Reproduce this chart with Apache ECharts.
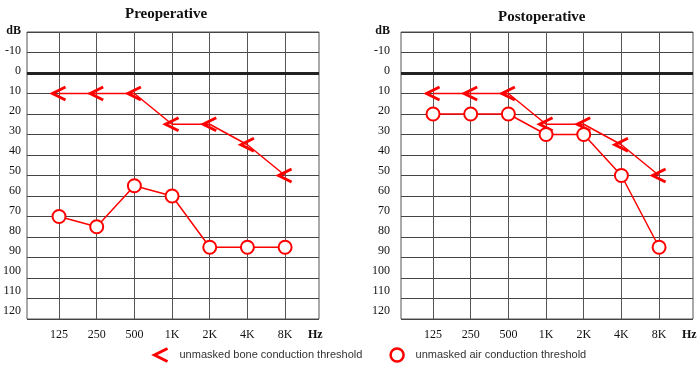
<!DOCTYPE html>
<html><head><meta charset="utf-8">
<script src="https://cdn.jsdelivr.net/npm/echarts@6/dist/echarts.min.js"></script>
<style>html,body{margin:0;padding:0;background:#fff}#c{width:700px;height:370px}</style>
</head><body><div id="c"></div>
<script>
const frequencies = ['125', '250', '500', '1K', '2K', '4K', '8K'];
const unitLabel = 'Hz';
const dbLabel = 'dB';
const preBone = [10, 10, 10, 25, 25, 35, 50];
const preAir = [70, 75, 55, 60, 85, 85, 85];
const postBone = [10, 10, 10, 25, 25, 35, 50];
const postAir = [20, 20, 20, 30, 30, 50, 85];
const panelTitles = ['Preoperative', 'Postoperative'];
const boneName = 'unmasked bone conduction threshold';
const airName = 'unmasked air conduction threshold';

const RED = '#f00';
const CHEVRON = 'path://M13,0 L0,6.5 L13,13';
const serif = 'Liberation Serif';
const tickIdx = frequencies.map((f, i) => i);
const hzPos = 6.8;

function pairs(vals) { return vals.map((v, i) => [i, v]); }

const gridLefts = [27, 401];
const titleLefts = [125, 498];
const titleTops = [7, 10];

const grids = [], xAxes = [], yAxes = [], titles = [], series = [];
const panels = [[preBone, preAir], [postBone, postAir]];
panels.forEach((p, i) => {
  grids.push({left: gridLefts[i], top: 32, width: 292, height: 287, show: true,
    borderColor: '#555', borderWidth: 1, backgroundColor: 'transparent'});
  titles.push({text: panelTitles[i], left: titleLefts[i], top: titleTops[i], padding: 0,
    textStyle: {fontFamily: serif, fontWeight: 'bold', fontSize: 15, color: '#111'}});
  xAxes.push({type: 'value', gridIndex: i, min: -0.85, max: 6.9,
    axisLine: {show: false},
    axisTick: {show: false, customValues: tickIdx},
    splitLine: {show: true, lineStyle: {color: '#555', width: 1}},
    axisLabel: {customValues: tickIdx.concat([hzPos]), margin: 10,
      fontFamily: serif, fontSize: 12, color: '#111',
      formatter: v => (v === hzPos ? '{h|' + unitLabel + '}' : frequencies[Math.round(v)]),
      rich: {h: {fontFamily: serif, fontWeight: 'bold', fontSize: 12, color: '#111'}}}
  });
  yAxes.push({type: 'value', gridIndex: i, inverse: true, min: -20, max: 120, interval: 10,
    axisLine: {show: false}, axisTick: {show: false},
    splitLine: {show: true, lineStyle: {color: '#444', width: 1}},
    axisLabel: {show: false}
  });
  series.push({name: boneName, type: 'line', xAxisIndex: i, yAxisIndex: i, data: pairs(p[0]),
    symbol: CHEVRON, symbolSize: [13, 13], z: 3,
    itemStyle: {color: 'rgba(0,0,0,0)', borderColor: RED, borderWidth: 3},
    lineStyle: {color: RED, width: 1.5}, emphasis: {disabled: true},
    markLine: {silent: true, symbol: 'none', label: {show: false},
      lineStyle: {color: '#222', width: 3, type: 'solid'}, data: [{yAxis: 0}]}
  });
  series.push({name: airName, type: 'line', xAxisIndex: i, yAxisIndex: i, data: pairs(p[1]),
    symbol: 'emptyCircle', symbolSize: 13, z: 4,
    itemStyle: {color: RED, borderColor: RED, borderWidth: 2.2},
    lineStyle: {color: RED, width: 1.5}, emphasis: {disabled: true}
  });
});
// label-only axes (the printed dB labels sit on a slightly tighter scale than the grid)
panels.forEach((p, i) => {
  grids.push({left: gridLefts[i], top: 31, width: 292, height: 280, show: false});
  xAxes.push({type: 'value', gridIndex: 2 + i, min: 0, max: 1, show: false});
  yAxes.push({type: 'value', gridIndex: 2 + i, inverse: true, min: -20, max: 120, interval: 10,
    axisLine: {show: false}, axisTick: {show: false}, splitLine: {show: false},
    axisLabel: {margin: 11, fontFamily: serif, fontSize: 12, color: '#111',
      formatter: v => (v === -20 ? '{b|' + dbLabel + '}' : String(v)),
      rich: {b: {fontFamily: serif, fontWeight: 'bold', fontSize: 12, color: '#111'}}}
  });
});

const chart = echarts.init(document.getElementById('c'), null, {renderer: 'canvas'});
chart.setOption({
  animation: false,
  backgroundColor: '#fff',
  title: titles,
  grid: grids,
  xAxis: xAxes,
  yAxis: yAxes,
  legend: {left: 153, top: 347, padding: 0, itemWidth: 13, itemHeight: 13, itemGap: 27,
    textStyle: {fontFamily: 'Liberation Sans', fontSize: 11, color: '#333', padding: [0, 0, 0, 7]},
    selectedMode: false,
    data: [
      {name: boneName, icon: CHEVRON, itemStyle: {color: 'rgba(0,0,0,0)', borderColor: RED, borderWidth: 3}},
      {name: airName, icon: 'circle', itemStyle: {color: '#fff', borderColor: RED, borderWidth: 2.5}}
    ]},
  series: series
});
</script></body></html>
